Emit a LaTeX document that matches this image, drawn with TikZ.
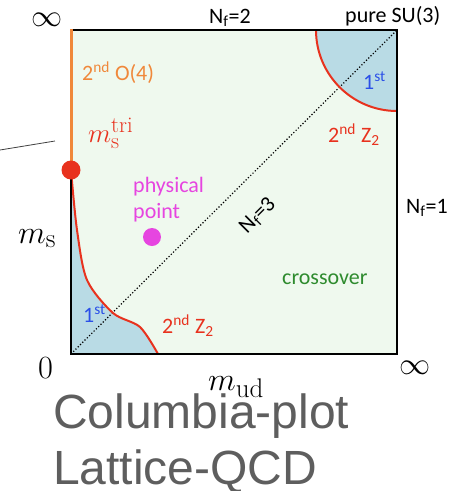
\documentclass[tikz,border=0pt]{standalone}
\usepackage{amsmath}
\usepackage{graphicx}
\usepackage{fontspec}
\usepackage{xcolor}
\newfontfamily\lblfont{Carlito}
\newfontfamily\bigfont{Liberation Sans}
\newcommand{\axmath}[2][1.3]{\scalebox{#1}{$#2$}}
\definecolor{mint}{HTML}{EFF9EE}
\definecolor{iceblue}{HTML}{B9DBE5}
\definecolor{linered}{HTML}{E8321E}
\definecolor{orangeline}{HTML}{F0883A}
\definecolor{physpink}{HTML}{E645E0}
\definecolor{xgreen}{HTML}{2E8B2E}
\definecolor{firstblue}{HTML}{2A4FE8}
\definecolor{titlegrey}{HTML}{5E5E5E}

\begin{document}
\begin{tikzpicture}[x=1pt,y=-1pt,
  lbl/.style={inner sep=0pt, anchor=base west, font=\lblfont\fontsize{22}{24}\selectfont},
  mlbl/.style={inner sep=0pt, font=\fontsize{24.88}{28}\selectfont},
  big/.style={inner sep=0pt, anchor=base west, text=titlegrey, font=\bigfont\fontsize{48}{52}\selectfont},
  frame/.style={line width=2.6pt, black},
  phase/.style={line width=2pt, linered}
]
\useasboundingbox (0,0) rectangle (451,491);

% plot area
\fill[mint] (71,30) rectangle (397,354);
\fill[iceblue] (397,30) -- (316,30) arc[start angle=180, end angle=90, radius=81] -- cycle;
\fill[iceblue] (71,354) -- (71,170)
  -- plot[smooth] coordinates {(71,170) (77,230) (87,280) (113,313) (140,327) (158,354)} -- cycle;

\draw[dotted, line width=1.2pt] (71,354) -- (397,30);

\draw[phase] (316,30) arc[start angle=180, end angle=90, radius=81];
\draw[phase] plot[smooth] coordinates {(71,170) (77,230) (87,280) (113,313) (140,327) (158,354)};

\draw[frame] (71,170) -- (71,354) -- (397,354) -- (397,30) -- (70,30);
\draw[orangeline, line width=3pt] (71,29) -- (71,170);

\fill[linered] (71,170) circle[radius=9.5];
\node[circle, fill=physpink, inner sep=0pt, minimum size=18pt] (phys) at (152,237) {};

% labels on the edges
\node[mlbl] (inftop) at (47,20) {\axmath[1.25]{\infty}};
\node[lbl] (nftwo) at (209,23) {N\textsubscript{f}=2};
\node[lbl] (pure) at (345,22) {pure SU(3)};
\node[lbl] (nfone) at (406,213) {N\textsubscript{f}=1};
\node[mlbl, anchor=base west] (ms) at (18,243) {\axmath{m_{\mathrm{s}}}};
\node[mlbl, anchor=base west] (zero) at (38,378) {\axmath{0}};
\node[mlbl] (infright) at (415,368) {\axmath[1.25]{\infty}};
\node[mlbl, anchor=base west] (mud) at (208,390) {\axmath{m_{\mathrm{ud}}}};

% labels inside
\node[lbl, text=orangeline] (oford) at (82,80) {2\textsuperscript{nd} O(4)};
\node[lbl, text=firstblue] (firsttop) at (363,89) {1\textsuperscript{st}};
\node[lbl, text=linered] (ztop) at (328,142) {2\textsuperscript{nd} Z\textsubscript{2}};
\node[mlbl, anchor=base west, text=linered] (mstri) at (88,142) {\axmath[1.08]{m_{\mathrm{s}}^{\mathrm{tri}}}};
\node[lbl, text=physpink] (physa) at (133,192) {physical};
\node[lbl, text=physpink] (physb) at (133,218) {point};
\node[lbl, rotate=45, anchor=center] (nfthree) at (258,216) {N\textsubscript{f}=3};
\node[lbl, text=xgreen] (cross) at (282,284) {crossover};
\node[lbl, text=firstblue] (firstbot) at (83,322) {1\textsuperscript{st}};
\node[lbl, text=linered] (zbot) at (162,333) {2\textsuperscript{nd} Z\textsubscript{2}};

\coordinate (ptrA) at (0,150);
\coordinate (ptrB) at (55,141);
\draw[black!75, line width=0.8pt] (ptrA) -- (ptrB);

\node[big] (titleA) at (53,428) {Columbia-plot};
\node[big] (titleB) at (53,484) {Lattice-QCD};
\end{tikzpicture}
\end{document}
